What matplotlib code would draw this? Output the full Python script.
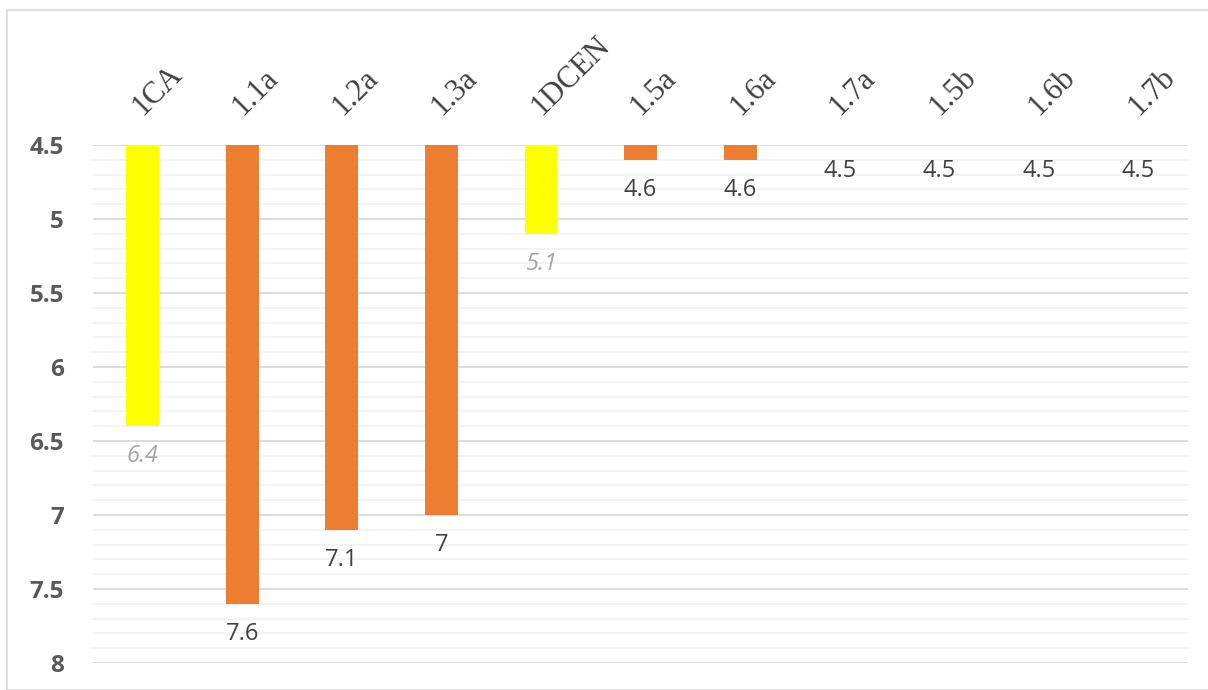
import numpy as np
import matplotlib.pyplot as plt
from matplotlib.patches import Rectangle
from matplotlib.ticker import MultipleLocator

categories = ["1CA", "1.1a", "1.2a", "1.3a", "1DCEN", "1.5a", "1.6a", "1.7a", "1.5b", "1.6b", "1.7b"]
values = [6.4, 7.6, 7.1, 7.0, 5.1, 4.6, 4.6, 4.5, 4.5, 4.5, 4.5]
highlight = [True, False, False, False, True, False, False, False, False, False, False]
base = 4.5

yellow = "#FFFF00"
orange = "#ED7D31"

fig = plt.figure(figsize=(12.08, 6.9), dpi=100)
ax = fig.add_axes([0.077, 0.039, 0.9065, 0.751])

# chart border
fig.patches.append(Rectangle((7 / 1208, 0), 1.2, 1 - 10 / 690, transform=fig.transFigure,
                             fill=False, edgecolor="#D9D9D9", linewidth=1.2))

x = np.arange(len(categories))
heights = np.array(values) - base
colors = [yellow if h else orange for h in highlight]
ax.bar(x, heights, bottom=base, width=0.33, color=colors, zorder=3)

for xi, v, h in zip(x, values, highlight):
    label = f"{v:g}"
    off = -10 if v == base else -13
    if h:
        ax.annotate(label, (xi, v), xytext=(0, off), textcoords="offset points",
                    ha="center", va="top", fontsize=17, style="italic",
                    color="#A6A6A6", family="Open Sans")
    else:
        ax.annotate(label, (xi, v), xytext=(0, off), textcoords="offset points",
                    ha="center", va="top", fontsize=17, color="#404040",
                    family="Open Sans")

ax.set_xlim(-0.5, len(categories) - 0.5)
ax.set_ylim(8, 4.5)
ax.yaxis.set_major_locator(MultipleLocator(0.5))
ax.yaxis.set_minor_locator(MultipleLocator(0.1))
ax.set_yticks([4.5, 5, 5.5, 6, 6.5, 7, 7.5, 8])
ax.set_yticklabels(["4.5", "5", "5.5", "6", "6.5", "7", "7.5", "8"])
ax.grid(True, which="major", axis="y", color="#D9D9D9", linewidth=1.3, zorder=0)
ax.grid(True, which="minor", axis="y", color="#F2F2F2", linewidth=1.3, zorder=0)

for lab in ax.get_yticklabels():
    lab.set_fontweight("bold")
    lab.set_fontsize(17.5)
    lab.set_color("#595959")
    lab.set_family("Open Sans")
ax.tick_params(axis="y", which="both", length=0, pad=21)

ax.xaxis.tick_top()
ax.set_xticks(x)
ax.set_xticklabels(categories, rotation=45, ha="left", va="baseline",
                   rotation_mode="anchor", fontsize=22, color="#404040",
                   family="Liberation Serif")
ax.tick_params(axis="x", length=0, pad=21)

for s in ax.spines.values():
    s.set_visible(False)

plt.savefig("out.png", dpi=100)
